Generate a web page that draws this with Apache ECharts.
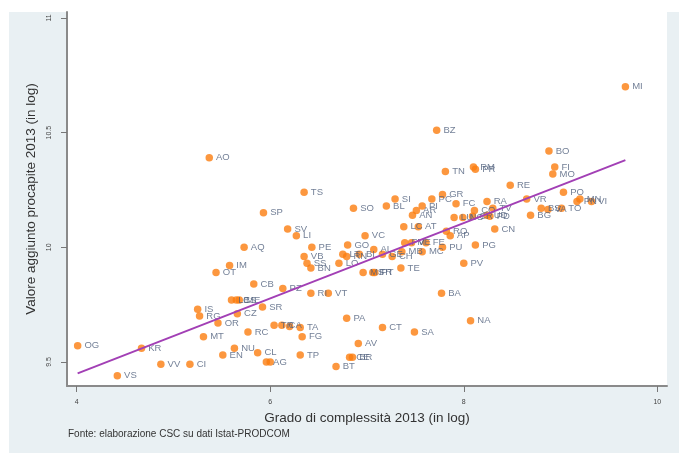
<!DOCTYPE html>
<html><head><meta charset="utf-8">
<script src="https://cdn.jsdelivr.net/npm/echarts@6/dist/echarts.min.js"></script>
<style>html,body{margin:0;padding:0;background:#fff}#c{width:679px;height:455px}</style>
</head><body><div id="c"></div>
<script>
const provinces = ["MI","BZ","BO","AO","RM","PR","TN","FI","MO","TS","RE","PO","VR","PN","MN","VI","BS","VA","TO","BG","FC","GR","PC","SI","BL","SO","SP","SV","LI","PI","AN","AR","LC","AT","RA","CO","UD","TV","PD","LU","NO","CR","RO","AP","CN","PG","PU","PV","BA","NA","SA","CT","PA","AV","CE","BR","BT","TE","MC","FE","VC","GO","LT","RN","BI","AL","GE","CH","MB","FM","VE","LO","MS","FR","PT","RI","VT","PZ","PE","VB","SS","BN","IM","OT","AQ","CB","LE","CS","ME","IS","RG","CZ","OR","SR","RC","MT","TR","CA","","TA","FG","NU","EN","CL","AG","","TP","CI","VV","VS","KR","OG"];
const complexity = [9.67,7.72,8.88,5.37,8.10,8.12,7.81,8.94,8.92,6.35,8.48,9.03,8.65,9.17,9.20,9.32,8.80,8.87,9.01,8.69,7.92,7.78,7.67,7.29,7.20,6.86,5.93,6.18,6.27,7.57,7.47,7.51,7.38,7.53,8.24,8.11,8.24,8.30,8.27,7.90,7.99,8.09,7.82,7.86,8.32,8.12,7.78,8.00,7.77,8.07,7.49,7.16,6.79,6.91,6.82,6.85,6.68,7.35,7.57,7.61,6.98,6.80,6.75,6.79,6.92,7.07,7.16,7.26,7.36,7.39,7.46,6.71,6.96,7.06,7.08,6.42,6.60,6.13,6.43,6.35,6.38,6.42,5.58,5.44,5.73,5.83,5.60,5.65,5.68,5.25,5.27,5.66,5.46,5.92,5.77,5.31,6.04,6.12,6.20,6.31,6.33,5.63,5.51,5.87,5.96,6.00,6.31,5.17,4.87,4.42,4.67,4.01];
const valueAdded = [10.70,10.51,10.42,10.39,10.35,10.34,10.33,10.35,10.32,10.24,10.27,10.24,10.21,10.20,10.21,10.20,10.17,10.165,10.17,10.14,10.19,10.23,10.21,10.21,10.18,10.17,10.15,10.08,10.05,10.18,10.14,10.16,10.09,10.09,10.20,10.16,10.14,10.17,10.135,10.13,10.13,10.135,10.07,10.05,10.08,10.01,10.00,9.93,9.80,9.68,9.63,9.65,9.69,9.58,9.52,9.52,9.48,9.91,9.98,10.02,10.05,10.01,9.97,9.96,9.97,9.99,9.97,9.96,9.98,10.02,10.02,9.93,9.89,9.89,9.89,9.80,9.80,9.82,10.00,9.96,9.93,9.91,9.92,9.89,10.00,9.84,9.77,9.77,9.77,9.73,9.70,9.71,9.67,9.74,9.63,9.61,9.66,9.66,9.655,9.65,9.61,9.56,9.53,9.54,9.50,9.50,9.53,9.49,9.49,9.44,9.56,9.57];
const fitX = [4.01, 9.67];
const fitY = [9.45, 10.38];
const xTicks = [4, 6, 8, 10];
const yTicks = [9.5, 10, 10.5, 11];

const pts = provinces.map((p, i) => ({name: p, value: [complexity[i], valueAdded[i]]}));
const fit = fitX.map((x, i) => [x, fitY[i]]);
const FONT = 'Liberation Sans, Arial, sans-serif';

const chart = echarts.init(document.getElementById('c'), null, {renderer: 'canvas'});
chart.setOption({
  animation: false,
  backgroundColor: '#ffffff',
  graphic: [
    {type: 'rect', z: -10, silent: true, shape: {x: 9, y: 12, width: 670, height: 441}, style: {fill: '#e9f0f3'}},
    {type: 'text', left: 68, top: 429, style: {text: 'Fonte: elaborazione CSC su dati Istat-PRODCOM', fontSize: 10, fill: '#333', fontFamily: FONT}}
  ],
  grid: {left: 67, right: 12, top: 12, bottom: 69, show: true, backgroundColor: '#ffffff', borderWidth: 0},
  xAxis: {
    type: 'value', min: 3.9, max: 10.1,
    name: 'Grado di complessità 2013 (in log)', nameLocation: 'middle', nameGap: 21,
    nameTextStyle: {fontSize: 13.5, color: '#333', fontFamily: FONT},
    axisLine: {show: true, lineStyle: {color: '#8a8a8a', width: 2}},
    axisTick: {show: true, length: 6, customValues: xTicks, lineStyle: {color: '#777'}},
    axisLabel: {customValues: xTicks, fontSize: 7, color: '#444', margin: 13},
    splitLine: {show: false}
  },
  yAxis: {
    type: 'value', min: 9.395, max: 11.026,
    name: 'Valore aggiunto procapite 2013 (in log)', nameLocation: 'middle', nameGap: 28,
    nameTextStyle: {fontSize: 13.5, color: '#333', fontFamily: FONT},
    axisLine: {show: true, lineStyle: {color: '#8a8a8a', width: 2}},
    axisTick: {show: true, length: 6, customValues: yTicks, lineStyle: {color: '#777'}},
    axisLabel: {customValues: yTicks, fontSize: 7, color: '#444', rotate: 90, margin: 14, formatter: v => String(v)},
    splitLine: {show: false}
  },
  series: [
    {
      type: 'scatter', data: pts, symbol: 'circle', symbolSize: 7.5,
      itemStyle: {color: '#fb7d0f'},
      label: {show: true, position: 'right', distance: 3, formatter: '{b}', fontSize: 9.5, color: '#4f5f7c', fontFamily: FONT},
      labelLayout: {hideOverlap: false},
      z: 3
    },
    {
      type: 'line', data: fit, symbol: 'none', showSymbol: false,
      lineStyle: {color: '#a23fb5', width: 2}, z: 4
    }
  ]
});
</script></body></html>
